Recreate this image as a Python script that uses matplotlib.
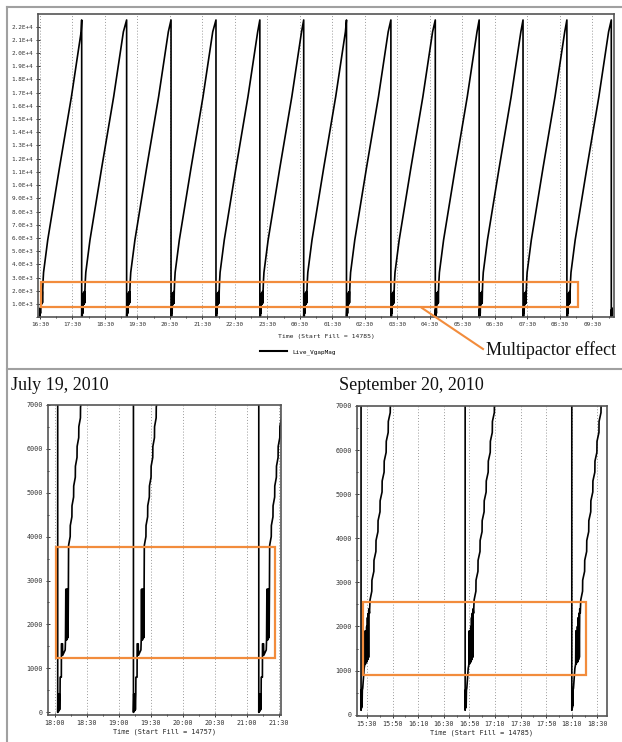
import numpy as np
import pandas as pd
import matplotlib
matplotlib.use("Agg")
import matplotlib.pyplot as plt
import matplotlib.dates as mdates
from matplotlib.lines import Line2D
from matplotlib.patches import Rectangle
from matplotlib.ticker import FuncFormatter, MultipleLocator

# ---- top panel: Live_VgapMag, Start Fill = 14785 ----
TOP_FILLS = ["2010-09-20 16:29", "2010-09-20 17:47", "2010-09-20 19:10", "2010-09-20 20:32",
             "2010-09-20 21:55", "2010-09-20 23:16", "2010-09-21 00:37", "2010-09-21 01:56",
             "2010-09-21 03:18", "2010-09-21 04:40", "2010-09-21 06:01", "2010-09-21 07:22",
             "2010-09-21 08:43", "2010-09-21 10:05"]
TOP_END = "2010-09-21 10:07"
TOP_PEAK = 22500
# one refill cycle: minutes after fill, value
TOP_CYCLE_MIN = [0, 0.6, 1.0, 1.5, 2.0, 2.4, 2.8, 3.2, 3.6, 4.0, 4.4, 4.8, 5.2, 5.6, 6.0,
                 6.6, 7.6, 15.3, 36.9, 59.1, 77.0]
TOP_CYCLE_VAL = [0, 600, 100, 700, 300, 900, 1800, 950, 1850, 1000, 1900, 1050, 1950, 1100, 2000,
                 2700, 3400, 5850, 11300, 16700, 21600]
TOP_BOX = ("2010-09-20 16:32", "2010-09-21 09:03", 800, 2680)

# ---- July 19, 2010 (Start Fill = 14757) ----
JUL_FILLS = ["2010-07-19 18:02:30", "2010-07-19 19:13:30", "2010-07-19 21:11:00"]
JUL_PEAK = 22000
JUL_CYCLE_MIN = [0, 0.3, 0.6, 0.9, 1.2, 1.5, 1.8, 2.2, 2.3, 3.4, 3.5, 4.5, 4.7, 7.0,
                 7.3, 7.6, 7.9, 8.2, 8.5, 8.8, 9.1, 9.4, 9.7, 10.0, 10.2,
                 11.7, 11.8, 13.3, 13.4, 14.9, 15.0, 16.5, 16.6, 18.1, 18.2, 19.7, 19.8,
                 21.3, 21.4, 22.9, 23.0]
JUL_CYCLE_VAL = [0, 420, 20, 420, 40, 420, 60, 420, 800, 800, 1560, 1560, 1300, 1420,
                 1650, 2800, 1650, 2800, 1650, 2800, 1700, 2800, 1700, 2800, 3800,
                 4000, 4250, 4450, 4700, 4900, 5150, 5350, 5600, 5800, 6050, 6250, 6500,
                 6700, 6950, 7150, 7400]
JUL_BOX = ("2010-07-19 18:01", "2010-07-19 21:26", 1230, 3760)

# ---- September 20, 2010 (Start Fill = 14785) ----
SEP_FILLS = ["2010-09-20 15:25:20", "2010-09-20 16:46:40", "2010-09-20 18:10:00"]
SEP_PEAK = 22000
SEP_CYCLE_MIN = [0, 0.2, 0.4, 0.6, 0.8, 1.0, 1.3, 2.2, 2.4, 3.0, 3.2, 3.5, 3.8, 4.1,
                 4.4, 4.7, 5.0, 5.3, 5.6, 5.9, 6.2, 6.6, 7.0,
                 8.4, 8.5, 10.0, 10.1, 11.6, 11.7, 13.2, 13.3, 14.8, 14.9, 16.4, 16.5,
                 18.0, 18.1, 19.6, 19.7, 21.2, 21.3, 22.8, 22.9, 24.4]
SEP_CYCLE_VAL = [100, 560, 150, 560, 200, 560, 600, 960, 1050, 1150, 1900, 1150, 1900, 1200,
                 2000, 1200, 2200, 1250, 2300, 1300, 2400, 2300, 2600,
                 2800, 3050, 3250, 3500, 3700, 3950, 4150, 4400, 4600, 4850, 5050, 5300,
                 5500, 5750, 5950, 6200, 6400, 6650, 6850, 7100, 7300]
SEP_BOX = ("2010-09-20 15:27", "2010-09-20 18:21", 890, 2545)

ORANGE = "#f28c3c"
W, H = 622, 742


def build_series(fills, cyc_min, cyc_val, peak, lead_peak=True, end=None):
    times, vals = [], []
    for i, f in enumerate(fills):
        t0 = pd.Timestamp(f)
        if i > 0 or lead_peak:
            times.append(t0)
            vals.append(peak)
        for dt, v in zip(cyc_min, cyc_val):
            times.append(t0 + pd.Timedelta(minutes=dt))
            vals.append(v)
    s = pd.Series(vals, index=pd.DatetimeIndex(times))
    if end is not None:
        s = s[s.index <= pd.Timestamp(end)]
    return s


def fx(px):
    return px / W


def fy(py):
    return 1 - py / H


def add_box(ax, box):
    t0, t1, lo, hi = box
    x0 = mdates.date2num(pd.Timestamp(t0))
    x1 = mdates.date2num(pd.Timestamp(t1))
    ax.add_patch(Rectangle((x0, lo), x1 - x0, hi - lo, fill=False, ec=ORANGE,
                           lw=1.6, zorder=5, clip_on=False))


def style_axes(ax, fs):
    for sp in ax.spines.values():
        sp.set_color("#555555")
        sp.set_linewidth(1.2)
    ax.tick_params(axis="both", which="both", labelsize=fs, colors="#333333",
                   direction="inout", length=3, width=0.7, pad=2)
    ax.tick_params(axis="both", which="minor", length=2)
    for lab in ax.get_xticklabels() + ax.get_yticklabels():
        lab.set_family("DejaVu Sans Mono")
    ax.grid(axis="x", which="major", color="#9a9a9a", ls=(0, (1, 2)), lw=0.7)


def sci_fmt(v, pos):
    if v <= 0:
        return ""
    e = int(np.floor(np.log10(v) + 1e-9))
    return f"{v / 10 ** e:.1f}E+{e}"


fig = plt.figure(figsize=(6.22, 7.42), dpi=100)

# frame lines of the composite
for (x0, y0, x1, y1) in [(7, 7, 622, 7), (7, 7, 7, 742), (7, 369, 622, 369)]:
    fig.add_artist(Line2D([fx(x0), fx(x1)], [fy(y0), fy(y1)], color="#a0a0a0", lw=1.5))

# ---- top ----
ax = fig.add_axes([fx(38), fy(317.3), fx(614 - 38), (317.3 - 14) / H])
top = build_series(TOP_FILLS, TOP_CYCLE_MIN, TOP_CYCLE_VAL, TOP_PEAK, lead_peak=False, end=TOP_END)
ax.plot(top.index, top.values, color="black", lw=1.2, label="Live_VgapMag")
ax.set_xlim(pd.Timestamp("2010-09-20 16:26:20"), pd.Timestamp("2010-09-21 10:10"))
ax.set_ylim(0, 22950)
ax.yaxis.set_major_locator(MultipleLocator(1000))
ax.yaxis.set_major_formatter(FuncFormatter(sci_fmt))
ax.xaxis.set_major_locator(mdates.MinuteLocator(byminute=[30]))
ax.xaxis.set_minor_locator(mdates.MinuteLocator(byminute=[0]))
ax.xaxis.set_major_formatter(mdates.DateFormatter("%H:%M"))
style_axes(ax, 4.3)
ax.set_xlabel("Time (Start Fill = 14785)", family="DejaVu Sans Mono", fontsize=4.6,
              color="#222222", labelpad=5)
add_box(ax, TOP_BOX)
fig.legend(handles=[Line2D([], [], color="black", lw=1.5)], labels=["Live_VgapMag"],
           loc="center", bbox_to_anchor=(fx(298), fy(352)), frameon=False,
           prop={"family": "DejaVu Sans Mono", "size": 4.3}, handlelength=4.5)

fig.add_artist(Line2D([fx(422), fx(483)], [fy(308), fy(349)], color=ORANGE, lw=1.5))
fig.text(fx(486), fy(350), "Multipactor effect", family="Liberation Serif", fontsize=13,
         va="center", ha="left", color="#111111")

# ---- July 19, 2010 ----
fig.text(fx(11), fy(385), "July 19, 2010", family="Liberation Serif", fontsize=13,
         va="center", ha="left", color="#111111")
axl = fig.add_axes([fx(48), fy(715), fx(281 - 48), (715 - 404.7) / H])
jul = build_series(JUL_FILLS, JUL_CYCLE_MIN, JUL_CYCLE_VAL, JUL_PEAK)
axl.plot(jul.index, jul.values, color="black", lw=1.2)
axl.set_xlim(pd.Timestamp("2010-07-19 17:53:24"), pd.Timestamp("2010-07-19 21:31:50"))
axl.set_ylim(-60, 7000)
axl.yaxis.set_major_locator(MultipleLocator(1000))
axl.yaxis.set_minor_locator(MultipleLocator(500))
axl.xaxis.set_major_locator(mdates.MinuteLocator(byminute=[0, 30]))
axl.xaxis.set_minor_locator(mdates.MinuteLocator(byminute=[15, 45]))
axl.xaxis.set_major_formatter(mdates.DateFormatter("%H:%M"))
style_axes(axl, 4.9)
axl.set_xlabel("Time (Start Fill = 14757)", family="DejaVu Sans Mono", fontsize=4.9,
               color="#222222", labelpad=2)
add_box(axl, JUL_BOX)

# ---- September 20, 2010 ----
fig.text(fx(339), fy(385), "September 20, 2010", family="Liberation Serif", fontsize=13,
         va="center", ha="left", color="#111111")
axr = fig.add_axes([fx(357), fy(716), fx(607 - 357), (716 - 406) / H])
sep = build_series(SEP_FILLS, SEP_CYCLE_MIN, SEP_CYCLE_VAL, SEP_PEAK)
axr.plot(sep.index, sep.values, color="black", lw=1.2)
axr.set_xlim(pd.Timestamp("2010-09-20 15:22:10"), pd.Timestamp("2010-09-20 18:37:30"))
axr.set_ylim(-30, 7000)
axr.yaxis.set_major_locator(MultipleLocator(1000))
axr.yaxis.set_minor_locator(MultipleLocator(500))
axr.xaxis.set_major_locator(mdates.MinuteLocator(byminute=[10, 30, 50]))
axr.xaxis.set_minor_locator(mdates.MinuteLocator(byminute=[0, 20, 40]))
axr.xaxis.set_major_formatter(mdates.DateFormatter("%H:%M"))
style_axes(axr, 4.9)
axr.set_xlabel("Time (Start Fill = 14785)", family="DejaVu Sans Mono", fontsize=4.9,
               color="#222222", labelpad=2)
add_box(axr, SEP_BOX)

fig.savefig("out.png", dpi=100)
